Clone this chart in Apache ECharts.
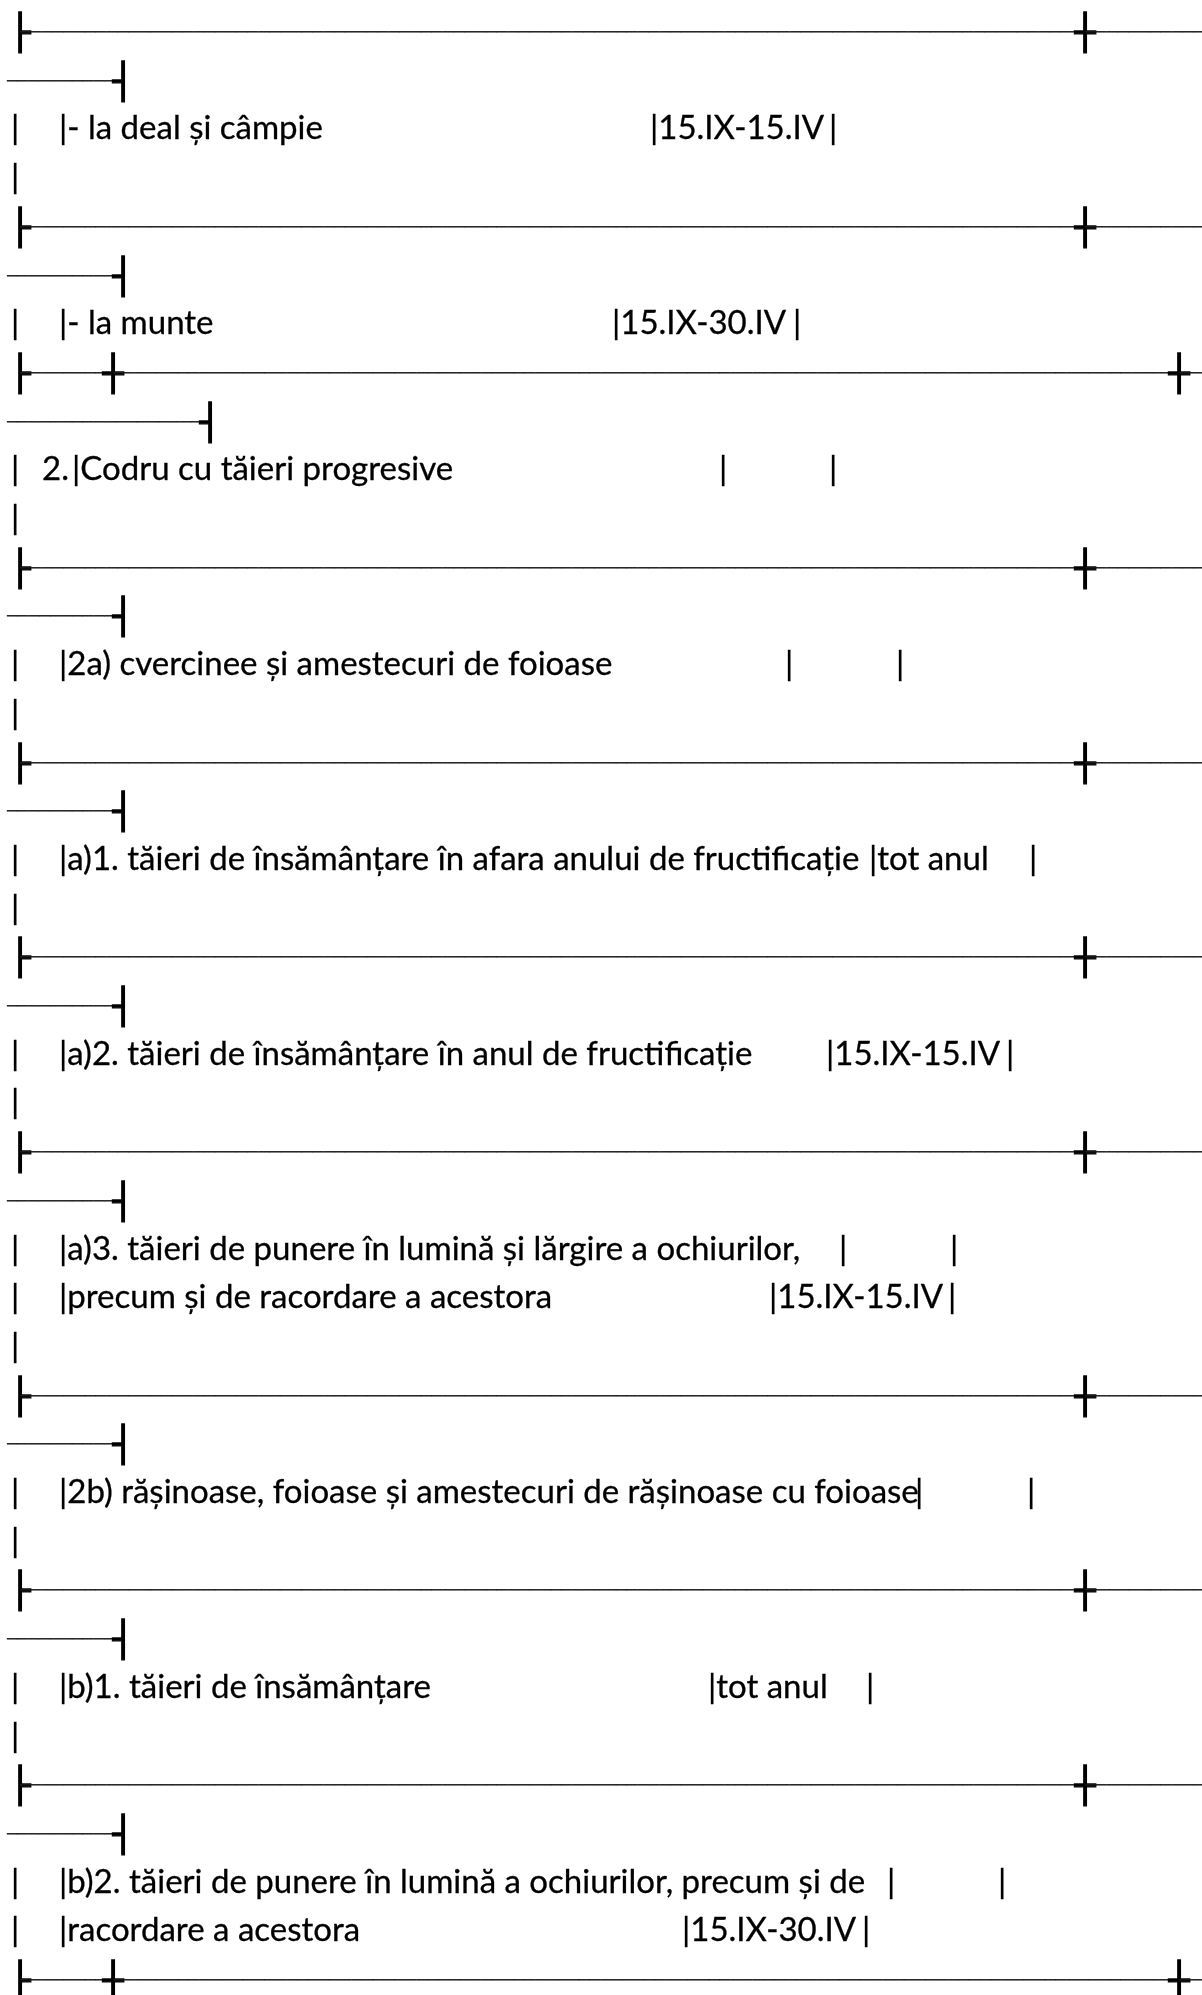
<!DOCTYPE html>
<html>
<head>
<meta charset="utf-8">
<script src="https://cdn.jsdelivr.net/npm/echarts@6/dist/echarts.min.js"></script>
<style>
html,body{margin:0;padding:0;background:#fff;}
#main{width:1202px;height:1995px;}
</style>
</head>
<body>
<div id="main"></div>
<script>
// text of each line, top to bottom; a plain string is a box-drawing rule
var rowText = [
	'├─┼─',
	'─┤',
	['|', '|- la deal și câmpie', '|15.IX-15.IV', '|'],
	['|'],
	'├─┼─',
	'─┤',
	['|', '|- la munte', '|15.IX-30.IV', '|'],
	'├─┼─┼─',
	'─┤',
	['|', '2.', '|Codru cu tăieri progresive', '|', '|'],
	['|'],
	'├─┼─',
	'─┤',
	['|', '|2a) cvercinee și amestecuri de foioase', '|', '|'],
	['|'],
	'├─┼─',
	'─┤',
	['|', '|a)1. tăieri de însămânțare în afara anului de fructificație', '|tot anul', '|'],
	['|'],
	'├─┼─',
	'─┤',
	['|', '|a)2. tăieri de însămânțare în anul de fructificație', '|15.IX-15.IV', '|'],
	['|'],
	'├─┼─',
	'─┤',
	['|', '|a)3. tăieri de punere în lumină și lărgire a ochiurilor,', '|', '|'],
	['|', '|precum și de racordare a acestora', '|15.IX-15.IV', '|'],
	['|'],
	'├─┼─',
	'─┤',
	['|', '|2b) rășinoase, foioase și amestecuri de rășinoase cu foioase', '|', '|'],
	['|'],
	'├─┼─',
	'─┤',
	['|', '|b)1. tăieri de însămânțare', '|tot anul', '|'],
	['|'],
	'├─┼─',
	'─┤',
	['|', '|b)2. tăieri de punere în lumină a ochiurilor, precum și de', '|', '|'],
	['|', '|racordare a acestora', '|15.IX-30.IV', '|'],
	'├─┼─┼─'
];

// horizontal stops (px) used by each line, same order as rowText
var rowStops = [
	[20, 1085], [7, 123],
	[15, 63, 654, 833], [15],
	[20, 1085], [7, 123],
	[15, 63, 616, 797],
	[20, 113, 1179], [7, 210],
	[15, 42, 76, 723, 833], [15],
	[20, 1085], [7, 123],
	[15, 63, 789, 900], [15],
	[20, 1085], [7, 123],
	[15, 63, 873, 1033], [15],
	[20, 1085], [7, 123],
	[15, 63, 830, 1010], [15],
	[20, 1085], [7, 123],
	[15, 63, 843, 954],
	[15, 63, 773, 952], [15],
	[20, 1085], [7, 123],
	[15, 63, 919, 1031], [15],
	[20, 1085], [7, 123],
	[15, 63, 712, 870], [15],
	[20, 1085], [7, 123],
	[15, 63, 891, 1002],
	[15, 63, 686, 866],
	[20, 113, 1179]
];

var W = 1202;
var TOP = 32, LINE_H = 48.7;
var TEXT_FONT = 'Lato', TEXT_SIZE = 33, BASE_OFF = 10;
var BOX_FONT = 'DejaVu Sans', RUN_SIZE = 18, JOIN_H = 41;

var ctx = document.createElement('canvas').getContext('2d');
ctx.textBaseline = 'middle';
function measure(ch, size, family) {
	ctx.font = size + 'px "' + family + '"';
	return ctx.measureText(ch);
}

var mJ = measure('┼', 100, BOX_FONT);
var JOIN_SIZE = JOIN_H / (mJ.actualBoundingBoxAscent + mJ.actualBoundingBoxDescent) * 100;

function strokeShift(size) {
	var m = measure('─', size, BOX_FONT);
	return (m.actualBoundingBoxDescent - m.actualBoundingBoxAscent) / 2;
}
var joinShift = strokeShift(JOIN_SIZE);
var runShift = strokeShift(RUN_SIZE);
var runW = measure('─', RUN_SIZE, BOX_FONT).width;

var mH = measure('H', TEXT_SIZE, TEXT_FONT);
var textShift = BASE_OFF - mH.actualBoundingBoxDescent;
var mBar = measure('|', TEXT_SIZE, TEXT_FONT);
var barMid = (mBar.actualBoundingBoxRight - mBar.actualBoundingBoxLeft) / 2;

function textEl(x, y, str, family, size, align, color, weight) {
	var style = {
		text: str,
		font: size + 'px "' + family + '"',
		fill: color,
		align: align,
		verticalAlign: 'middle'
	};
	if (weight) {
		style.stroke = color;
		style.lineWidth = weight;
	}
	return { type: 'text', x: x, y: y, silent: true, style: style };
}

var elements = [];
rowText.forEach(function (row, i) {
	var y = TOP + i * LINE_H;
	var xs = rowStops[i];
	if (typeof row === 'string') {
		var k = 0, prev = null;
		for (var c = 0; c < row.length; c++) {
			var ch = row.charAt(c);
			if (ch === '─') {
				var x0 = prev !== null ? prev : xs[k++];
				var last = c === row.length - 1;
				var x1 = last ? W + 10 : xs[k];
				var n = last ? Math.ceil((x1 - x0) / runW) : Math.floor((x1 - x0) / runW);
				elements.push(textEl(x0, y - runShift, new Array(n + 1).join('─'), BOX_FONT, RUN_SIZE, 'left', '#1a1a1a'));
			} else {
				prev = xs[k++];
				elements.push(textEl(prev, y - joinShift, ch, BOX_FONT, JOIN_SIZE, 'center', '#000', 1.2));
			}
		}
	} else {
		row.forEach(function (piece, j) {
			var x = xs[j];
			if (piece.charAt(0) === '|') x -= barMid;
			elements.push(textEl(x, y + textShift, piece, TEXT_FONT, TEXT_SIZE, 'left', '#000', 0.3));
		});
	}
});

var myChart = echarts.init(document.getElementById('main'));
myChart.setOption({
	backgroundColor: '#fff',
	animation: false,
	graphic: elements
});
</script>
</body>
</html>
